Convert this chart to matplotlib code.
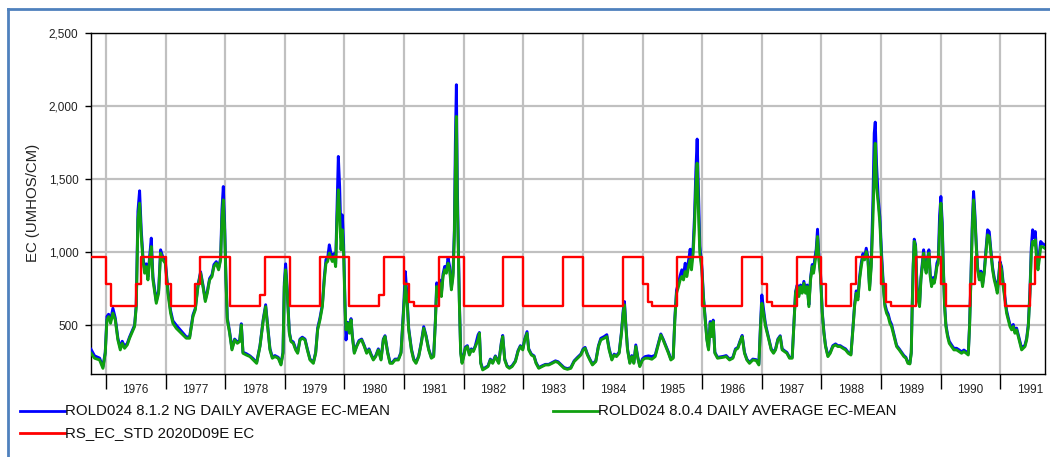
import matplotlib
matplotlib.use('Agg')
import numpy as np
import matplotlib.pyplot as plt
from matplotlib.lines import Line2D
from matplotlib.ticker import FixedLocator, FuncFormatter, NullFormatter

plt.rcParams['font.family'] = ['Liberation Sans', 'DejaVu Sans']

# time axis in decimal years (Oct 1975 - Sep 1991)
t_ec = [
    1975.750, 1975.810, 1975.894, 1975.950, 1975.989, 1976.017, 1976.045, 1976.078, 1976.117, 1976.157,
    1976.201, 1976.241, 1976.274, 1976.313, 1976.358, 1976.397, 1976.481, 1976.509, 1976.537, 1976.565,
    1976.593, 1976.621, 1976.649, 1976.677, 1976.705, 1976.733, 1976.761, 1976.789, 1976.845, 1976.884,
    1976.917, 1976.956, 1976.996, 1977.040, 1977.085, 1977.124, 1977.180, 1977.264, 1977.348, 1977.404,
    1977.460, 1977.499, 1977.544, 1977.588, 1977.628, 1977.667, 1977.700, 1977.739, 1977.779, 1977.812,
    1977.851, 1977.890, 1977.924, 1977.946, 1977.969, 1977.991, 1978.013, 1978.036, 1978.075, 1978.114,
    1978.159, 1978.204, 1978.243, 1978.271, 1978.299, 1978.355,
    1978.416, 1978.472, 1978.528, 1978.584, 1978.640, 1978.679, 1978.712, 1978.751, 1978.791, 1978.835,
    1978.891, 1978.936, 1978.970, 1978.992, 1979.014, 1979.042, 1979.076, 1979.104, 1979.143, 1979.182,
    1979.216, 1979.255, 1979.294, 1979.339, 1979.378, 1979.423, 1979.479, 1979.518, 1979.551, 1979.590,
    1979.630, 1979.663, 1979.691, 1979.719, 1979.747, 1979.775, 1979.797, 1979.825, 1979.853, 1979.876,
    1979.898, 1979.920, 1979.943, 1979.965, 1979.987, 1980.010, 1980.027, 1980.055, 1980.083, 1980.111,
    1980.133, 1980.166, 1980.206, 1980.245, 1980.289, 1980.334, 1980.373, 1980.413, 1980.446, 1980.485,
    1980.524, 1980.569, 1980.614, 1980.653, 1980.681, 1980.726, 1980.765, 1980.804, 1980.849, 1980.905,
    1980.949,
    1980.994, 1981.022, 1981.050, 1981.078, 1981.123, 1981.162, 1981.201, 1981.246, 1981.290, 1981.330,
    1981.369, 1981.413, 1981.458, 1981.497, 1981.525, 1981.548, 1981.570, 1981.598, 1981.626, 1981.654,
    1981.682, 1981.710, 1981.738, 1981.766, 1981.794, 1981.822, 1981.844, 1981.861, 1981.878, 1981.894,
    1981.911, 1981.928, 1981.950, 1981.973, 1982.001, 1982.029, 1982.062, 1982.096, 1982.129, 1982.163,
    1982.196, 1982.241, 1982.264, 1982.286, 1982.319, 1982.364, 1982.409, 1982.448, 1982.487, 1982.532,
    1982.588, 1982.633, 1982.655, 1982.689, 1982.728, 1982.767, 1982.812, 1982.868, 1982.912, 1982.951,
    1982.991, 1983.024, 1983.063, 1983.091, 1983.136, 1983.181, 1983.214, 1983.259, 1983.315, 1983.371,
    1983.427, 1983.483, 1983.539, 1983.583,
    1983.685, 1983.741, 1983.797, 1983.853, 1983.909, 1983.965, 1984.004, 1984.037, 1984.076, 1984.116,
    1984.160, 1984.216, 1984.261, 1984.300, 1984.356, 1984.401, 1984.440, 1984.485, 1984.524, 1984.563,
    1984.608, 1984.647, 1984.675, 1984.697, 1984.720, 1984.748, 1984.787, 1984.820, 1984.854, 1984.887,
    1984.921, 1984.954, 1984.999, 1985.044, 1985.100, 1985.156, 1985.212, 1985.256, 1985.307, 1985.346,
    1985.391, 1985.435, 1985.475, 1985.514, 1985.542, 1985.570, 1985.603, 1985.631, 1985.659, 1985.687,
    1985.715, 1985.743, 1985.771, 1985.799, 1985.821, 1985.849, 1985.872, 1985.894, 1985.916, 1985.939,
    1985.961, 1985.995, 1986.023, 1986.051, 1986.079, 1986.107, 1986.135, 1986.157, 1986.185, 1986.213,
    1986.258,
    1986.347, 1986.403, 1986.459, 1986.515, 1986.559, 1986.599, 1986.638, 1986.671, 1986.710, 1986.750,
    1986.794, 1986.850, 1986.906, 1986.951, 1986.979, 1987.001, 1987.029, 1987.063, 1987.091, 1987.119,
    1987.158, 1987.197, 1987.231, 1987.270, 1987.309, 1987.342, 1987.382, 1987.421, 1987.465, 1987.510,
    1987.538, 1987.566, 1987.594, 1987.622, 1987.650, 1987.678, 1987.706, 1987.734, 1987.762, 1987.790,
    1987.818, 1987.846, 1987.868, 1987.890, 1987.913, 1987.935, 1987.958, 1987.986, 1988.014, 1988.042,
    1988.069, 1988.109, 1988.148, 1988.192, 1988.237, 1988.276, 1988.316, 1988.360, 1988.405, 1988.450,
    1988.495, 1988.528, 1988.556, 1988.584, 1988.612, 1988.640, 1988.668, 1988.696, 1988.724, 1988.752,
    1988.780, 1988.808, 1988.836, 1988.864,
    1988.886, 1988.903, 1988.925, 1988.953, 1988.981, 1989.009, 1989.037, 1989.065, 1989.093, 1989.121,
    1989.149, 1989.177, 1989.205, 1989.233, 1989.261, 1989.305, 1989.344, 1989.384, 1989.417, 1989.451,
    1989.484, 1989.507, 1989.523, 1989.540, 1989.557, 1989.579, 1989.602, 1989.624, 1989.646, 1989.669,
    1989.691, 1989.714, 1989.736, 1989.758, 1989.781, 1989.803, 1989.825, 1989.848, 1989.870, 1989.892,
    1989.915, 1989.937, 1989.960, 1989.982, 1990.004, 1990.027, 1990.043, 1990.066, 1990.088, 1990.116,
    1990.144, 1990.183, 1990.222, 1990.267, 1990.312, 1990.351, 1990.390, 1990.429, 1990.463, 1990.485,
    1990.508, 1990.530, 1990.552, 1990.575, 1990.597, 1990.620, 1990.648, 1990.676, 1990.703, 1990.731,
    1990.759, 1990.787, 1990.815, 1990.843, 1990.871, 1990.899, 1990.927, 1990.950, 1990.972, 1990.994,
    1991.022, 1991.050, 1991.078, 1991.106, 1991.134, 1991.162, 1991.190, 1991.218, 1991.246, 1991.274,
    1991.302, 1991.330, 1991.358, 1991.386, 1991.414, 1991.442, 1991.470, 1991.498, 1991.520, 1991.542,
    1991.565, 1991.587, 1991.609, 1991.632, 1991.654, 1991.677, 1991.705, 1991.745,
]

# ROLD024 8.0.4 daily average EC (green)
ec_804 = [
    308, 274, 262, 205, 308, 536, 559, 513, 582, 536,
    399, 331, 376, 342, 365, 411, 491, 627, 1221, 1335,
    1107, 947, 856, 901, 810, 947, 1038, 810, 650, 719,
    993, 947, 924, 719, 582, 513, 479, 445, 411, 411,
    559, 605, 764, 856, 764, 662, 719, 810, 833, 901,
    924, 879, 947, 1221, 1358, 1153, 810, 536, 445, 331,
    399, 376, 388, 502, 308, 296,
    285, 262, 239, 354, 536, 627, 491, 331, 274, 285,
    274, 228, 308, 764, 879, 719, 445, 388, 376, 331,
    308, 399, 411, 399, 331, 262, 239, 308, 468, 536,
    627, 810, 924, 936, 993, 959, 936, 970, 901, 1221,
    1427, 1267, 1016, 1153, 993, 627, 468, 513, 445, 536,
    422, 308, 354, 388, 399, 354, 308, 331, 296, 262,
    285, 331, 262, 399, 422, 308, 239, 239, 262, 262,
    308,
    605, 787, 673, 468, 331, 262, 239, 285, 376, 479,
    422, 331, 274, 285, 513, 765, 696, 787, 696, 833,
    879, 856, 924, 879, 742, 833, 1107, 1564, 1929, 1335,
    993, 650, 308, 239, 285, 342, 354, 296, 331, 320,
    354, 399, 445, 239, 194, 205, 217, 262, 239, 285,
    239, 376, 422, 262, 217, 205, 217, 251, 320, 354,
    331, 399, 445, 331, 296, 285, 239, 205, 217, 228,
    228, 239, 251, 245,
    205, 198, 205, 251, 274, 296, 331, 342, 296, 262,
    228, 251, 354, 399, 411, 422, 331, 262, 296, 285,
    308, 445, 582, 639, 491, 331, 239, 285, 239, 354,
    274, 217, 262, 274, 274, 267, 285, 354, 433, 399,
    354, 308, 262, 274, 536, 719, 764, 810, 833, 810,
    867, 833, 901, 947, 879, 993, 1175, 1449, 1609, 1267,
    993, 879, 673, 536, 399, 331, 513, 422, 525, 308,
    274,
    280, 285, 262, 274, 331, 342, 388, 422, 308, 262,
    239, 262, 258, 228, 491, 650, 582, 491, 445, 399,
    331, 308, 331, 399, 422, 331, 319, 308, 274, 274,
    491, 719, 764, 696, 764, 719, 787, 719, 764, 627,
    810, 901, 856, 924, 993, 1107, 947, 833, 582, 445,
    354, 285, 308, 354, 365, 354, 354, 342, 331, 308,
    296, 468, 627, 719, 673, 810, 901, 970, 947, 1004,
    947, 742, 901, 1221,
    1564, 1745, 1449, 1335, 1198, 947, 764, 627, 582, 559,
    513, 491, 445, 399, 354, 331, 308, 285, 274, 239,
    235, 308, 627, 901, 1073, 1038, 764, 673, 627, 810,
    901, 993, 901, 856, 947, 993, 833, 764, 810, 787,
    833, 901, 924, 1153, 1335, 1153, 901, 627, 491, 422,
    376, 354, 331, 331, 319, 308, 319, 308, 296, 491,
    810, 1153, 1358, 1221, 1038, 879, 810, 856, 764, 856,
    993, 1118, 1107, 993, 879, 810, 764, 719, 810, 924,
    879, 764, 673, 582, 536, 491, 468, 491, 445, 468,
    422, 376, 331, 342, 354, 399, 491, 719, 993, 1073,
    1050, 1084, 947, 879, 947, 1038, 1038, 1027,
]

# ROLD024 8.1.2 NG daily average EC (blue)
ec_812 = [
    335, 290, 275, 215, 315, 560, 575, 530, 616, 550,
    410, 345, 390, 355, 375, 420, 500, 640, 1280, 1420,
    1150, 970, 880, 920, 830, 970, 1096, 830, 665, 735,
    1016, 965, 940, 740, 600, 530, 500, 460, 420, 420,
    570, 615, 775, 865, 775, 675, 730, 820, 845, 915,
    935, 890, 960, 1290, 1449, 1200, 830, 550, 455, 340,
    405, 385, 395, 510, 315, 305,
    290, 270, 245, 360, 545, 640, 500, 340, 282, 292,
    280, 235, 315, 790, 920, 740, 455, 395, 385, 340,
    315, 405, 418, 405, 338, 268, 245, 315, 480, 550,
    640, 830, 950, 960, 1050, 990, 960, 990, 920, 1300,
    1655, 1450, 1100, 1255, 1050, 650, 399, 520, 455, 545,
    430, 315, 360, 395, 405, 360, 315, 338, 302, 268,
    290, 338, 268, 405, 428, 315, 245, 245, 268, 268,
    315,
    630, 867, 700, 480, 340, 270, 245, 290, 385, 490,
    430, 338, 280, 292, 525, 790, 710, 810, 715, 850,
    902, 870, 959, 900, 760, 860, 1150, 1750, 2146, 1450,
    1050, 670, 320, 250, 292, 350, 360, 302, 338, 326,
    360, 433, 450, 245, 200, 210, 222, 268, 245, 290,
    245, 385, 430, 268, 222, 210, 222, 256, 326, 360,
    338, 405, 456, 338, 302, 290, 245, 210, 222, 232,
    232, 244, 256, 250,
    210, 203, 210, 256, 280, 302, 338, 348, 302, 268,
    234, 256, 360, 410, 422, 435, 340, 268, 302, 292,
    315, 455, 600, 662, 505, 340, 245, 292, 245, 365,
    280, 222, 270, 285, 290, 285, 295, 362, 440, 405,
    360, 315, 268, 280, 550, 740, 790, 840, 879, 840,
    924, 870, 940, 1020, 920, 1040, 1250, 1550, 1774, 1400,
    1040, 900, 690, 550, 410, 340, 525, 430, 535, 315,
    280,
    286, 292, 268, 280, 338, 348, 395, 430, 315, 268,
    245, 268, 264, 234, 510, 707, 610, 505, 455, 408,
    338, 315, 338, 405, 428, 338, 325, 314, 280, 280,
    500, 730, 775, 708, 775, 730, 800, 730, 775, 640,
    825, 915, 870, 960, 1020, 1157, 970, 850, 595, 455,
    362, 292, 315, 360, 372, 360, 360, 348, 338, 314,
    302, 478, 640, 735, 690, 830, 925, 990, 965, 1027,
    965, 760, 930, 1350,
    1815, 1890, 1600, 1370, 1240, 990, 790, 645, 600, 575,
    530, 505, 458, 410, 362, 338, 315, 292, 280, 245,
    240, 315, 640, 920, 1089, 1050, 780, 685, 640, 825,
    915, 1016, 915, 870, 960, 1016, 850, 780, 825, 800,
    850, 924, 950, 1250, 1381, 1200, 930, 645, 505, 435,
    390, 365, 342, 342, 330, 318, 330, 318, 305, 505,
    830, 1200, 1415, 1260, 1060, 895, 825, 870, 780, 870,
    1010, 1153, 1140, 1010, 895, 825, 780, 735, 830, 936,
    900, 785, 690, 600, 550, 505, 480, 505, 458, 480,
    435, 388, 342, 352, 364, 410, 505, 740, 1030, 1153,
    1100, 1141, 990, 910, 980, 1073, 1060, 1050,
]

# RS_EC_STD 2020D09E monthly standard, water years 1976-1991 (Oct..Sep)
std_ec = [
    965, 965, 965, 780, 632, 632, 632, 632, 632, 780, 965, 965,
    965, 965, 965, 780, 632, 632, 632, 632, 632, 780, 965, 965,
    965, 965, 965, 965, 632, 632, 632, 632, 632, 632, 705, 965,
    965, 965, 965, 965, 632, 632, 632, 632, 632, 632, 965, 965,
    965, 965, 965, 965, 632, 632, 632, 632, 632, 632, 705, 965,
    965, 965, 965, 780, 662, 632, 632, 632, 632, 632, 965, 965,
    965, 965, 965, 632, 632, 632, 632, 632, 632, 632, 632, 965,
    965, 965, 965, 632, 632, 632, 632, 632, 632, 632, 632, 965,
    965, 965, 965, 632, 632, 632, 632, 632, 632, 632, 632, 965,
    965, 965, 965, 780, 662, 632, 632, 632, 632, 632, 965, 965,
    965, 965, 965, 632, 632, 632, 632, 632, 632, 632, 632, 965,
    965, 965, 965, 780, 662, 632, 632, 632, 632, 632, 965, 965,
    965, 965, 965, 780, 632, 632, 632, 632, 632, 780, 965, 965,
    965, 965, 965, 780, 662, 632, 632, 632, 632, 632, 965, 965,
    965, 965, 965, 780, 632, 632, 632, 632, 632, 780, 965, 965,
    965, 965, 965, 780, 632, 632, 632, 632, 632, 780, 965, 965,
]

years = list(range(1976, 1992))
y_ticks = [500, 1000, 1500, 2000, 2500]
labels = ['ROLD024 8.1.2 NG DAILY AVERAGE EC-MEAN',
          'ROLD024 8.0.4 DAILY AVERAGE EC-MEAN',
          'RS_EC_STD 2020D09E EC']
colors = ['#0000ff', '#10a010', '#ff0000']

W, H = 1050, 457
fig = plt.figure(figsize=(W / 100, H / 100), dpi=100)
ax = fig.add_axes([91 / W, 1 - 374 / H, 954 / W, 341 / H])

# monthly step times for the standard
t_std = 1975.75 + np.arange(len(std_ec) + 1) / 12.0
v_std = list(std_ec) + [std_ec[-1]]

ax.plot(t_ec, ec_812, color=colors[0], lw=2.1, zorder=3)
ax.plot(t_ec, ec_804, color=colors[1], lw=2.1, zorder=4)
ax.plot(t_std, v_std, color=colors[2], lw=1.7, drawstyle='steps-post', zorder=5)

ax.set_xlim(1975.75, 1991.75)
ax.set_ylim(166, 2500)

ax.xaxis.set_major_locator(FixedLocator(years))
ax.xaxis.set_major_formatter(NullFormatter())
ax.xaxis.set_minor_locator(FixedLocator([y + 0.5 for y in years]))
ax.xaxis.set_minor_formatter(FuncFormatter(lambda v, p: str(int(v))))
ax.tick_params(axis='x', which='major', direction='out', length=11, width=1, color='black')
ax.tick_params(axis='x', which='minor', length=0, pad=7, labelsize=8.5, labelcolor='#222222')

ax.yaxis.set_major_locator(FixedLocator(y_ticks))
ax.yaxis.set_major_formatter(FuncFormatter(lambda v, p: f'{v:,.0f}'))
ax.tick_params(axis='y', direction='out', length=4.5, width=1, color='black', pad=4.5,
               labelsize=8.5, labelcolor='#222222')

ax.grid(which='major', color='#c0c0c0', lw=1.6)
ax.set_axisbelow(True)
for s in ax.spines.values():
    s.set_color('black')
    s.set_linewidth(1.0)

fig.text(33 / W, 1 - 203 / H, 'EC (UMHOS/CM)', rotation=90, ha='center', va='center',
         fontsize=10.8, color='#222222')

# legend below the plot
legend_pos = [(20, 411), (553, 411), (20, 433)]
for (lx, ly), lab, col in zip(legend_pos, labels, colors):
    fig.add_artist(Line2D([lx / W, (lx + 45) / W], [1 - ly / H] * 2, color=col, lw=2))
    fig.text((lx + 45) / W, 1 - ly / H, lab, ha='left', va='center', fontsize=10.8, color='#111111')

# blue outer frame (cut off at right and bottom)
fig.add_artist(Line2D([7.5 / W, 7.5 / W], [0, 1 - 8.5 / H], color='#4f81bd', lw=2))
fig.add_artist(Line2D([7.5 / W, 1], [1 - 8.5 / H] * 2, color='#4f81bd', lw=2))

fig.savefig('out.png', dpi=100)
